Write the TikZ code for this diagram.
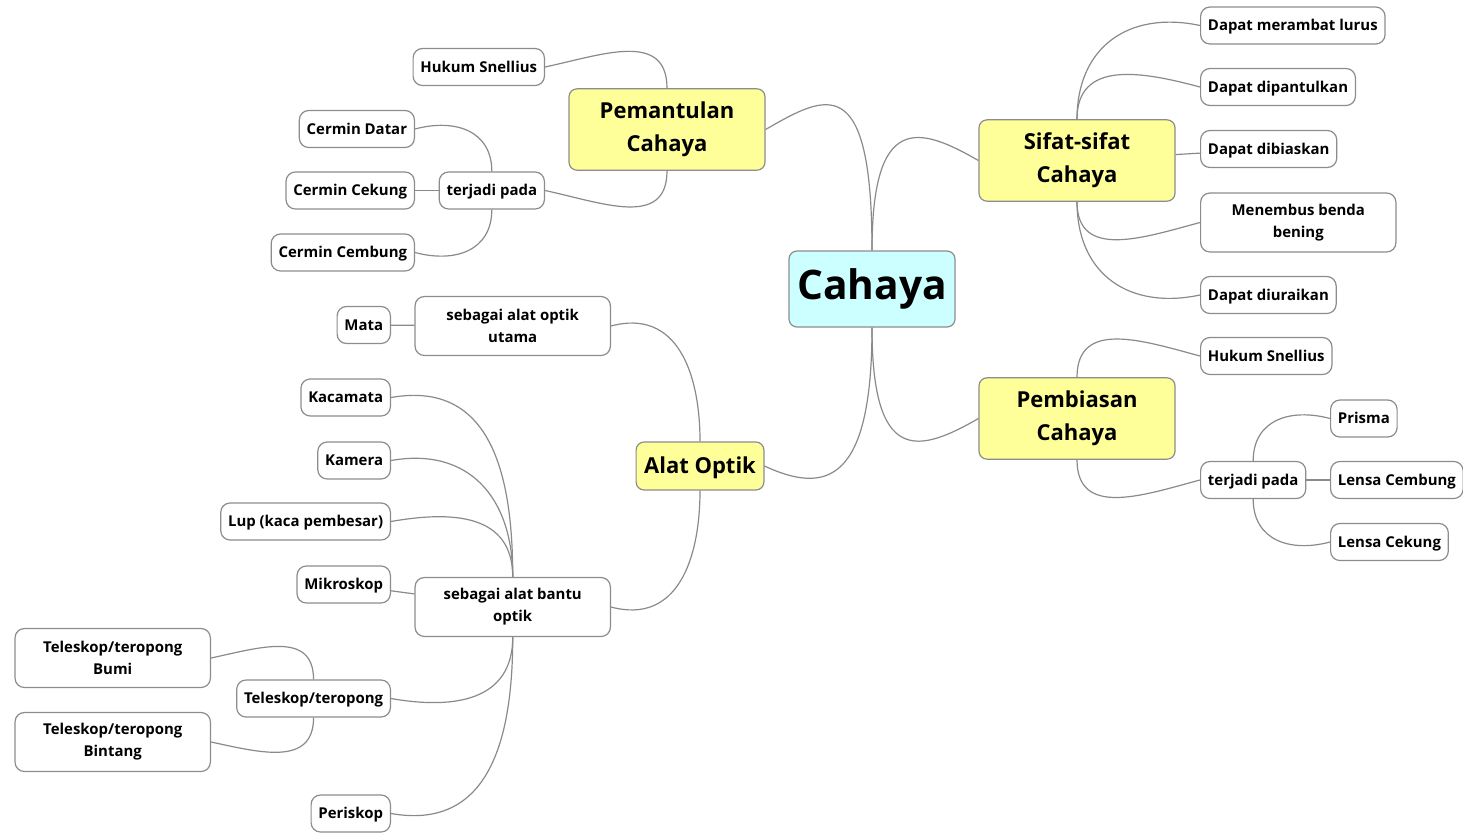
\documentclass[tikz,border=0pt]{standalone}
\usepackage{fontspec}
\setmainfont{Open Sans}
\definecolor{rootfill}{HTML}{CCFFFF}
\definecolor{topicfill}{HTML}{FFFF99}
\definecolor{boxline}{HTML}{8C8C8C}
\definecolor{linkcol}{HTML}{8A8A8A}
\tikzset{
  root/.style={draw=boxline, fill=rootfill, rounded corners=6pt, line width=0.9pt,
    font=\fontsize{30.5}{36}\selectfont\bfseries, minimum width=124.5pt, minimum height=57pt},
  topic/.style={draw=boxline, fill=topicfill, rounded corners=6pt, line width=0.9pt,
    font=\fontsize{16.5}{24.75}\selectfont\bfseries, align=center, inner xsep=6pt, minimum height=36pt},
  topictwo/.style={topic, minimum width=147pt, minimum height=61pt},
  leaf/.style={draw=boxline, fill=white, rounded corners=7pt, line width=0.9pt,
    font=\fontsize{11.2}{16.5}\selectfont\bfseries, inner xsep=5.5pt,
    text height=9.2pt, text depth=1.2pt, minimum height=27.75pt},
  leaftwo/.style={draw=boxline, fill=white, rounded corners=7pt, line width=0.9pt,
    font=\fontsize{11.2}{16.5}\selectfont\bfseries, align=center,
    minimum width=146.5pt, minimum height=44.25pt},
  link/.style={draw=linkcol, line width=0.9pt, looseness=1.2},
  mainlink/.style={draw=linkcol, line width=0.9pt, in distance=52pt},
}
\begin{document}
\begin{tikzpicture}[x=0.75pt, y=0.75pt]
    \useasboundingbox (0,0) rectangle (1463,-832);

    % center and main topics
    \node[root] (cahaya) at (872,-289) {Cahaya};
    \node[topictwo] (pemantulan) at (667,-129.5) {Pemantulan\\Cahaya};
    \node[topictwo] (sifat) at (1077,-160.5) {Sifat-sifat\\Cahaya};
    \node[topictwo] (pembiasan) at (1077,-418.5) {Pembiasan\\Cahaya};
    \node[topic, text height=13.5pt, text depth=2.5pt] (alat) at (700,-466) {Alat Optik};

    % sifat-sifat
    \node[leaf, anchor=west] (lurus) at (1200,-25.5) {Dapat merambat lurus};
    \node[leaf, anchor=west] (pantul) at (1200,-87) {Dapat dipantulkan};
    \node[leaf, anchor=west] (bias) at (1200,-149) {Dapat dibiaskan};
    \node[leaftwo, anchor=west] (tembus) at (1200,-222.5) {Menembus benda\\bening};
    \node[leaf, anchor=west] (urai) at (1200,-295) {Dapat diuraikan};

    % pembiasan
    \node[leaf, anchor=west] (snelB) at (1200,-356) {Hukum Snellius};
    \node[leaf, anchor=west] (terjadiB) at (1200,-480) {terjadi pada};
    \node[leaf, anchor=west] (prisma) at (1330,-418.5) {Prisma};
    \node[leaf, anchor=west] (cembungL) at (1330,-480) {Lensa Cembung};
    \node[leaf, anchor=west] (cekungL) at (1330,-542) {Lensa Cekung};

    % pemantulan
    \node[leaf, anchor=east] (snelA) at (545,-67) {Hukum Snellius};
    \node[leaf, anchor=east] (terjadiA) at (545,-190.5) {terjadi pada};
    \node[leaf, anchor=east] (datar) at (415,-129) {Cermin Datar};
    \node[leaf, anchor=east] (cekungC) at (415,-190.5) {Cermin Cekung};
    \node[leaf, anchor=east] (cembungC) at (415,-252.5) {Cermin Cembung};

    % alat optik
    \node[leaftwo, anchor=east] (utama) at (611,-326) {sebagai alat optik\\utama};
    \node[leaf, anchor=east] (mata) at (391,-325) {Mata};
    \node[leaftwo, anchor=east] (bantu) at (611,-607) {sebagai alat bantu\\optik};
    \node[leaf, anchor=east] (kacamata) at (391,-397.5) {Kacamata};
    \node[leaf, anchor=east] (kamera) at (391,-460.5) {Kamera};
    \node[leaf, anchor=east] (lup) at (391,-521.5) {Lup (kaca pembesar)};
    \node[leaf, anchor=east] (mikro) at (391,-584.5) {Mikroskop};
    \node[leaf, anchor=east] (teleskop) at (391,-698.5) {Teleskop/teropong};
    \node[leaftwo, anchor=east] (bumi) at (211,-658) {Teleskop/teropong\\Bumi};
    \node[leaftwo, anchor=east] (bintang) at (211,-742) {Teleskop/teropong\\Bintang};
    \node[leaf, anchor=east] (periskop) at (391,-813.5) {Periskop};

    % links
    \draw[mainlink] (cahaya.north) to[out=90,in=30,out distance=136pt] (pemantulan.east);
    \draw[mainlink] (cahaya.north) to[out=90,in=150,out distance=103pt] (sifat.west);
    \draw[mainlink] (cahaya.south) to[out=-90,in=-150,out distance=103pt] (pembiasan.west);
    \draw[mainlink] (cahaya.south) to[out=-90,in=-25,out distance=115pt] (alat.east);

    \foreach \n/\a in {lurus/168, pantul/165} \draw[link] (sifat.north) to[out=90,in=\a] (\n.west);
    \foreach \n/\a in {tembus/-165, urai/-168} \draw[link] (sifat.south) to[out=-90,in=\a] (\n.west);
    \draw[link] (pembiasan.north) to[out=90,in=165] (snelB.west);
    \draw[link] (pembiasan.south) to[out=-90,in=-165] (terjadiB.west);
    \draw[link] (terjadiB.north) to[out=90,in=165] (prisma.west);
    \draw[link] (terjadiB.south) to[out=-90,in=-165] (cekungL.west);

    \draw[link] (pemantulan.north) to[out=90,in=12] (snelA.east);
    \draw[link] (pemantulan.south) to[out=-90,in=-12] (terjadiA.east);
    \draw[link] (terjadiA.north) to[out=90,in=15] (datar.east);
    \draw[link] (terjadiA.south) to[out=-90,in=-15] (cembungC.east);

    \draw[link] (alat.north) to[out=90,in=15] (utama.east);
    \draw[link] (alat.south) to[out=-90,in=-15] (bantu.east);
    \foreach \n in {kacamata, kamera, lup} \draw[link] (bantu.north) to[out=90,in=10] (\n.east);
    \foreach \n in {teleskop, periskop} \draw[link] (bantu.south) to[out=-90,in=-10] (\n.east);
    \draw[link] (teleskop.north) to[out=90,in=12] (bumi.east);
    \draw[link] (teleskop.south) to[out=-90,in=-12] (bintang.east);

    \foreach \a/\b in {sifat/bias, terjadiB/cembungL, terjadiA/cekungC, utama/mata, bantu/mikro}
        \draw[link] (\a) -- (\b);
\end{tikzpicture}
\end{document}
